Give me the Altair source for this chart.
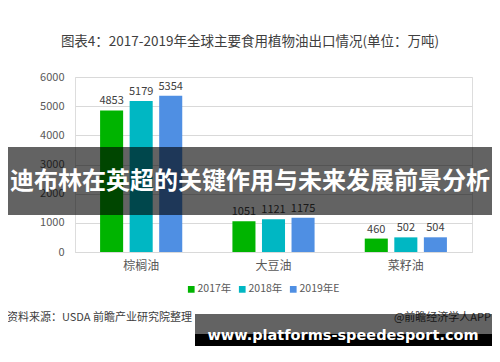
import altair as alt
import pandas as pd

categories = ["棕榈油", "大豆油", "菜籽油"]
years = ["2017年", "2018年", "2019年E"]
v2017 = [4853, 1051, 460]
v2018 = [5179, 1121, 502]
v2019 = [5354, 1175, 504]
colors = ["#00B400", "#00B7C3", "#4F8FE3"]

rows = []
for i, c in enumerate(categories):
    for y, vals in zip(years, [v2017, v2018, v2019]):
        rows.append({"cat": c, "year": y, "value": vals[i]})
df = pd.DataFrame(rows)

FONT = "Noto Sans CJK SC"

x = alt.X("cat:N", sort=categories, title=None,
          scale=alt.Scale(paddingInner=0.33, paddingOuter=0.165),
          axis=alt.Axis(labelAngle=0, labelFontSize=12, labelColor="#595959",
                        labelFont=FONT, ticks=False, domainColor="#d9d9d9",
                        labelPadding=8))
xo = alt.XOffset("year:N", sort=years,
                 scale=alt.Scale(paddingInner=0.22, paddingOuter=0.11))
y = alt.Y("value:Q", title=None,
          scale=alt.Scale(domain=[0, 6000]),
          axis=alt.Axis(values=[0, 1000, 2000, 3000, 4000, 5000, 6000], format="d",
                        labelFontSize=11, labelColor="#595959", labelFont=FONT,
                        ticks=False, domain=False, gridColor="#d9d9d9",
                        labelPadding=11))

bars = alt.Chart(df).mark_bar().encode(
    x=x, xOffset=xo, y=y,
    color=alt.Color("year:N", sort=years,
                    scale=alt.Scale(domain=years, range=colors),
                    legend=alt.Legend(title=None, orient="none", legendX=111, legendY=207,
                                      direction="horizontal", symbolType="square",
                                      symbolSize=45, labelFontSize=10.5, labelFont=FONT,
                                      labelColor="#595959", columnPadding=5,
                                      labelOffset=1, symbolStrokeWidth=0))
)

labels = alt.Chart(df).mark_text(dy=-9, fontSize=11, font=FONT, color="#404040").encode(
    x=x, xOffset=xo, y=y, text=alt.Text("value:Q", format="d")
)

one = pd.DataFrame({"a": [0]})

title = alt.Chart(one).mark_text(
    text="图表4：2017-2019年全球主要食用植物油出口情况(单位：万吨)",
    fontSize=13.5, font=FONT, color="#404040", align="center", baseline="middle"
).encode(x=alt.value(175), y=alt.value(-35))

band = alt.Chart(one).mark_rect(color="black", opacity=0.61).encode(
    x=alt.value(-75), x2=alt.value(430), y=alt.value(70), y2=alt.value(138))

band_text = alt.Chart(one).mark_text(
    text="迪布林在英超的关键作用与未来发展前景分析",
    fontSize=24, font=FONT, fontWeight="bold", color="white",
    align="center", baseline="middle"
).encode(x=alt.value(175), y=alt.value(105))

src = alt.Chart(one).mark_text(
    text="资料来源：USDA 前瞻产业研究院整理", fontSize=11, font=FONT,
    color="#404040", align="left", baseline="middle"
).encode(x=alt.value(-68), y=alt.value(241))

app = alt.Chart(one).mark_text(
    text="@前瞻经济学人APP", fontSize=11, font=FONT,
    color="#404040", align="right", baseline="middle"
).encode(x=alt.value(416), y=alt.value(241))

gray = alt.Chart(one).mark_rect(color="black", opacity=0.61).encode(
    x=alt.value(120), x2=alt.value(417), y=alt.value(237), y2=alt.value(257))
black = alt.Chart(one).mark_rect(color="black", opacity=1).encode(
    x=alt.value(120), x2=alt.value(417), y=alt.value(257), y2=alt.value(276))
url = alt.Chart(one).mark_text(
    text="www.platforms-speedesport.com", fontSize=14.5, font="DejaVu Sans",
    fontWeight="bold", color="white", align="center", baseline="middle"
).encode(x=alt.value(268), y=alt.value(259))

chart = alt.layer(bars, labels, title, band, band_text, src, app, gray, black, url).properties(
    width=397, height=175,
    autosize=alt.AutoSizeParams(type="none"),
    padding={"left": 67, "top": 69, "right": 20, "bottom": 94},
).configure_view(stroke=None).configure(background="white")

chart.save("out.html", embed_options={"renderer": "svg", "actions": False})
